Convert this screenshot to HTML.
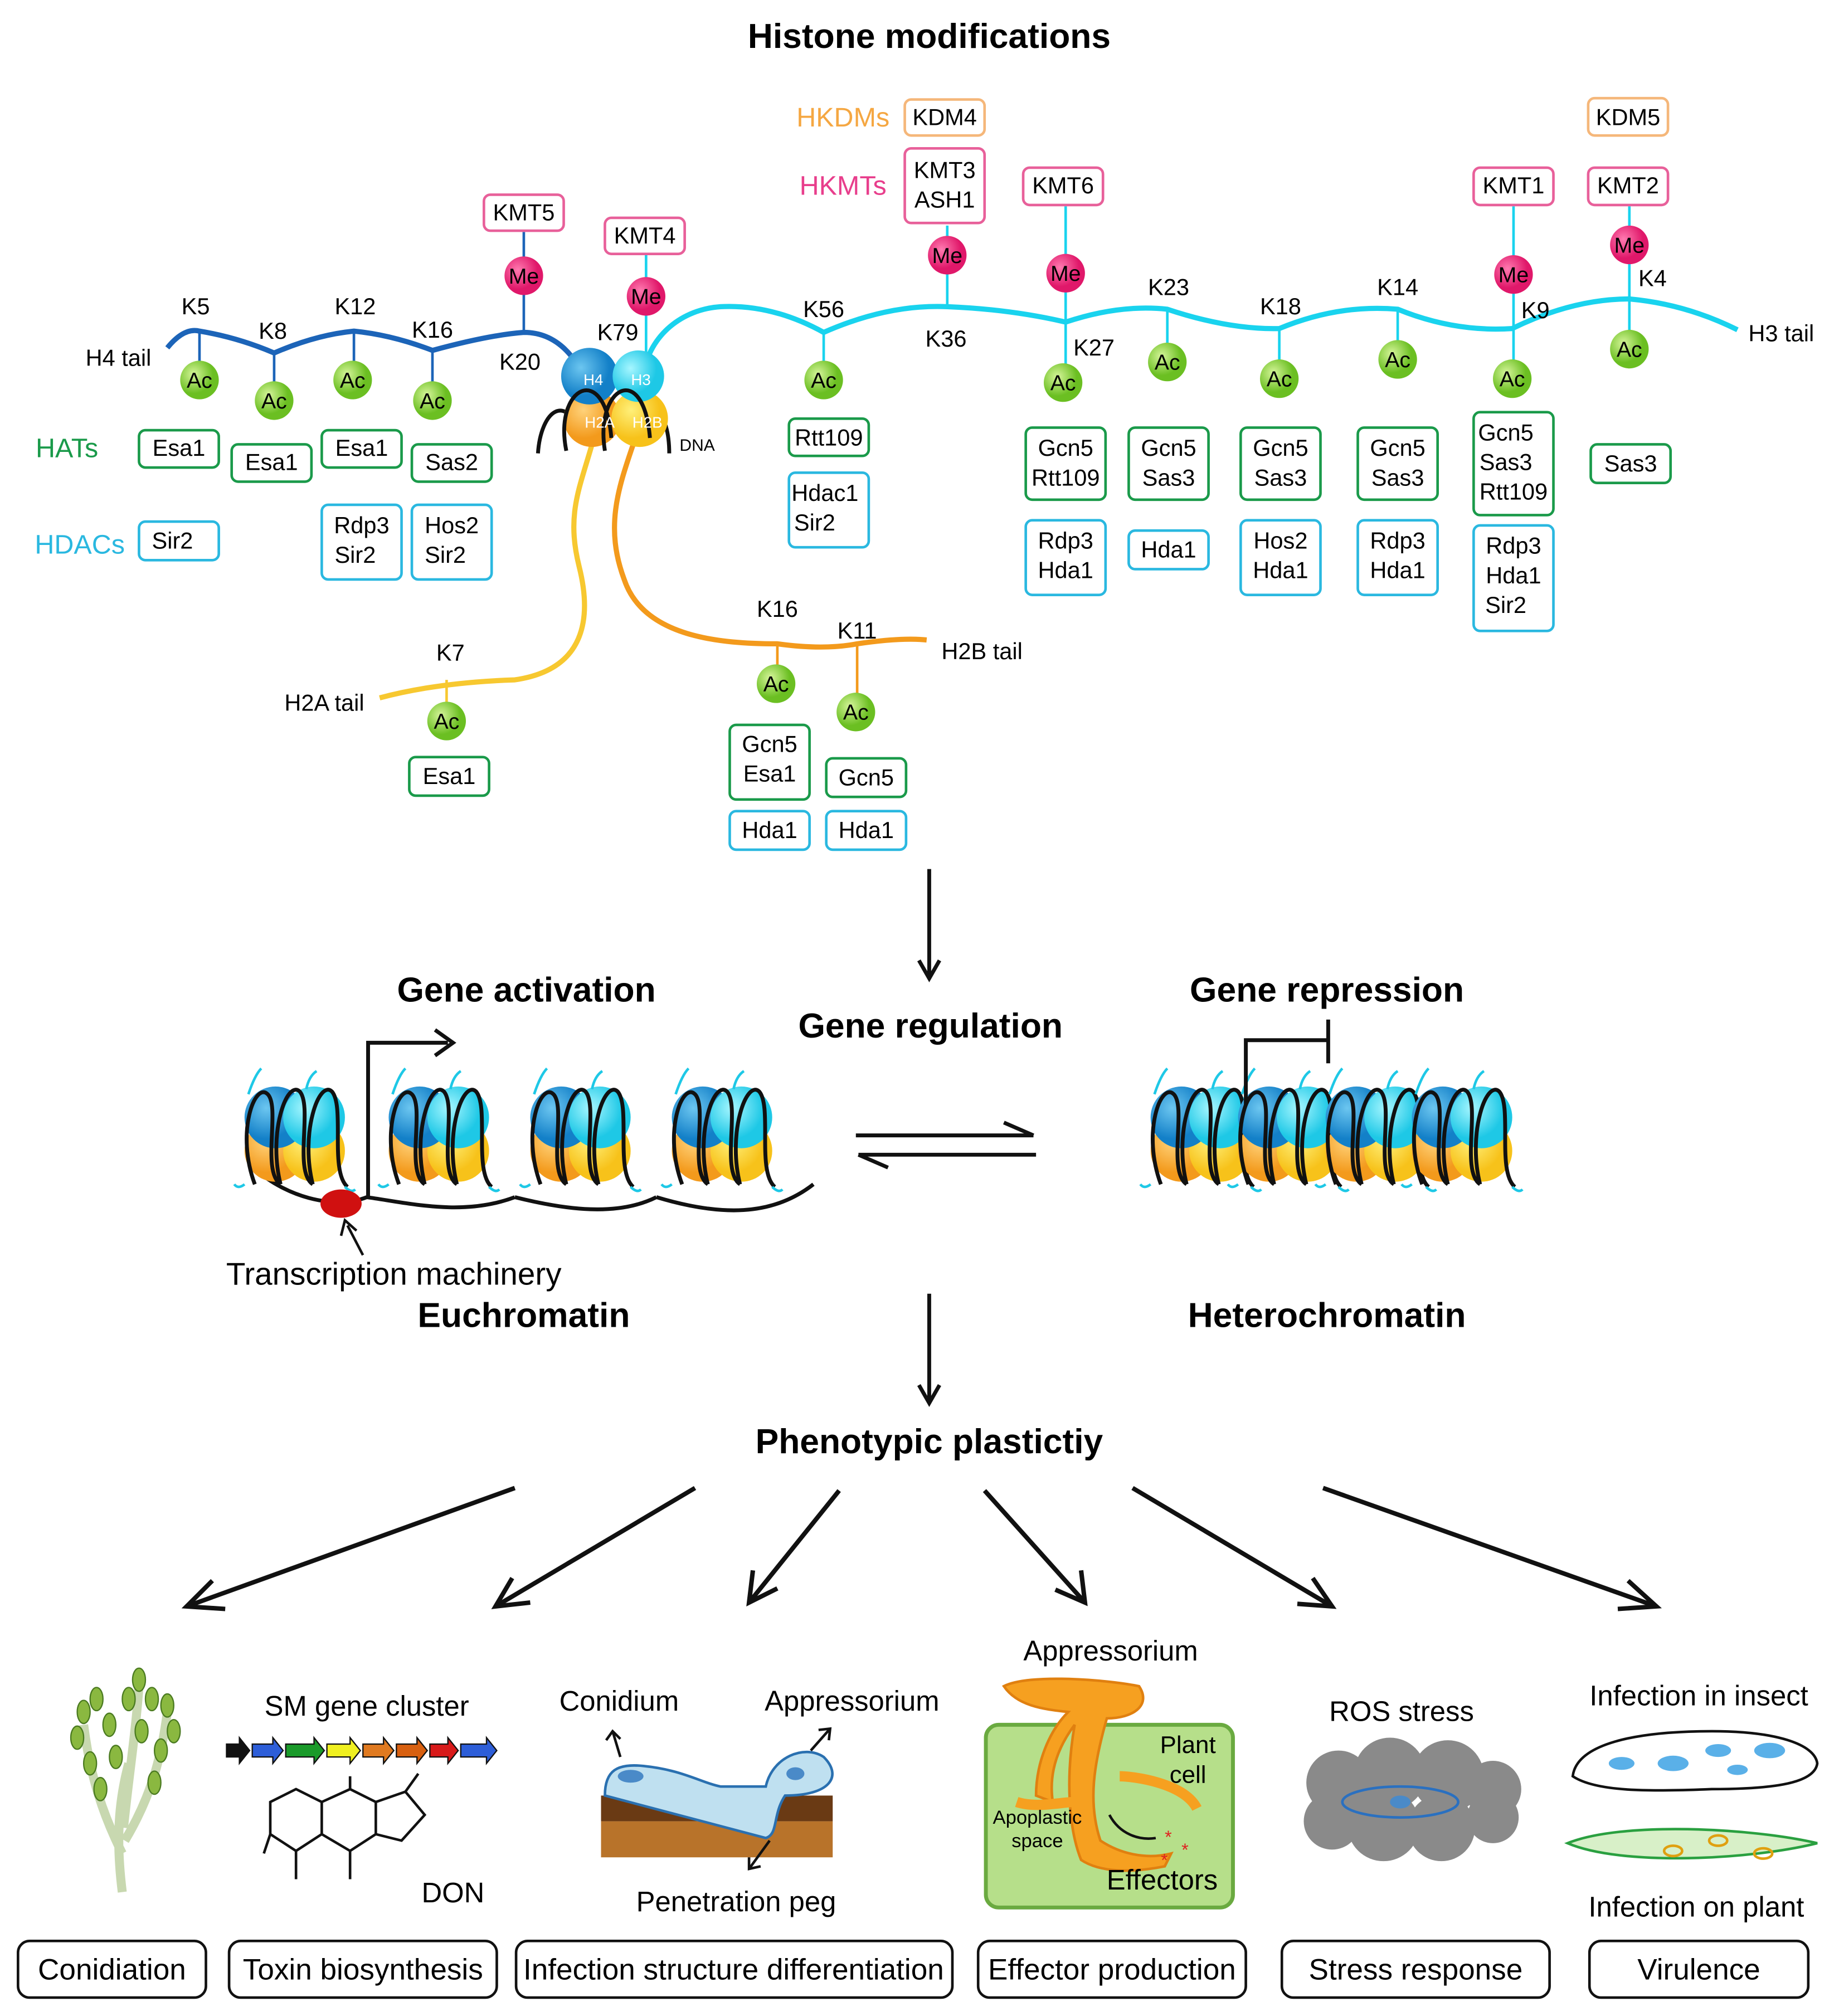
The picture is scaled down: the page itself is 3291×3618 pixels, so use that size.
<!DOCTYPE html>
<html><head><meta charset="utf-8"><style>
html,body{margin:0;padding:0;background:#fff;}
svg{display:block;}
text{font-family:"Liberation Sans",Arial,sans-serif;}
</style></head><body>
<svg width="3291" height="3618" viewBox="0 0 1425 1566" xmlns="http://www.w3.org/2000/svg">
<defs>
<radialGradient id="gb" cx="35%" cy="35%"><stop offset="0" stop-color="#6cc6f0"/><stop offset="1" stop-color="#1380c8"/></radialGradient>
<radialGradient id="gc" cx="35%" cy="35%"><stop offset="0" stop-color="#a6f6ff"/><stop offset="1" stop-color="#1ec8e6"/></radialGradient>
<radialGradient id="go" cx="35%" cy="35%"><stop offset="0" stop-color="#ffd27a"/><stop offset="1" stop-color="#f39a1c"/></radialGradient>
<radialGradient id="gy" cx="35%" cy="35%"><stop offset="0" stop-color="#fff07a"/><stop offset="1" stop-color="#f7c21a"/></radialGradient>
<radialGradient id="gac" cx="35%" cy="35%"><stop offset="0" stop-color="#d6f59a"/><stop offset="1" stop-color="#6bbf22"/></radialGradient>
<radialGradient id="gme" cx="35%" cy="35%"><stop offset="0" stop-color="#ff7ab0"/><stop offset="1" stop-color="#e0186a"/></radialGradient>
<g id="nuc">
<circle cx="-14" cy="14" r="24" fill="url(#go)"/><circle cx="16" cy="14" r="24" fill="url(#gy)"/>
<circle cx="-14" cy="-12" r="24" fill="url(#gb)"/><circle cx="16" cy="-12" r="24" fill="url(#gc)"/>
<path d="M-30,40 C-45,0 -30,-40 -20,-30 C-10,-20 -25,30 -10,40 M-10,40 C-20,0 -5,-42 5,-32 C15,-20 0,30 15,40 M15,40 C5,0 20,-42 30,-32 C40,-20 28,30 42,42" fill="none" stroke="#111" stroke-width="3"/>
<path d="M-35,-30 q5,-15 10,-20 M10,-34 q2,-10 8,-14 M-38,40 q-5,4 -8,0 M40,42 q5,5 8,2" fill="none" stroke="#1ec8e6" stroke-width="2"/>
</g>
</defs>

<text x="722" y="37" font-size="27" font-weight="bold" text-anchor="middle">Histone modifications</text>

<text x="655" y="98" font-size="21" fill="#f5a742" text-anchor="middle">HKDMs</text>
<text x="655" y="151" font-size="21" fill="#e83e8c" text-anchor="middle">HKMTs</text>
<text x="52" y="355" font-size="21" fill="#1a9a4a" text-anchor="middle">HATs</text>
<text x="62" y="430" font-size="21" fill="#2ab8e0" text-anchor="middle">HDACs</text>

<path d="M130,270 Q143,254 155,257 Q185,262 213,274 Q245,260 275,257 Q305,260 336,272 Q380,260 407,258 Q432,258 448,282" fill="none" stroke="#1c64b8" stroke-width="4"/>
<path d="M500,290 C505,260 530,240 560,238 Q600,236 640,258 Q690,236 736,238 Q785,240 828,250 Q870,236 907,240 Q955,256 994,255 Q1040,236 1086,240 Q1130,258 1175,255 Q1222,232 1266,232 Q1310,236 1350,256" fill="none" stroke="#19d3ee" stroke-width="4"/>
<path d="M460,345 C450,380 440,400 450,440 C460,480 455,520 400,528 Q340,530 295,542" fill="none" stroke="#f7c830" stroke-width="4"/>
<path d="M492,345 C480,380 470,410 485,450 C500,495 560,500 604,500 Q640,505 666,500 Q700,495 720,497" fill="none" stroke="#f39a1c" stroke-width="4"/>

<g stroke="#1c64b8" stroke-width="2">
<line x1="155" y1="257" x2="155" y2="285"/><line x1="213" y1="274" x2="213" y2="300"/><line x1="275" y1="257" x2="275" y2="285"/><line x1="336" y1="272" x2="336" y2="300"/><line x1="407" y1="228" x2="407" y2="258"/><line x1="407" y1="180" x2="407" y2="200"/>
</g>
<g stroke="#19d3ee" stroke-width="2">
<line x1="502" y1="244" x2="502" y2="275"/><line x1="502" y1="198" x2="502" y2="216"/>
<line x1="640" y1="258" x2="640" y2="283"/>
<line x1="736" y1="212" x2="736" y2="238"/><line x1="736" y1="175" x2="736" y2="185"/>
<line x1="828" y1="226" x2="828" y2="286"/><line x1="828" y1="160" x2="828" y2="198"/>
<line x1="907" y1="240" x2="907" y2="270"/><line x1="994" y1="255" x2="994" y2="283"/><line x1="1086" y1="240" x2="1086" y2="268"/>
<line x1="1176" y1="227" x2="1176" y2="283"/><line x1="1176" y1="160" x2="1176" y2="199"/>
<line x1="1266" y1="204" x2="1266" y2="260"/><line x1="1266" y1="160" x2="1266" y2="176"/>
</g>
<g stroke="#f7c830" stroke-width="2"><line x1="347" y1="528" x2="347" y2="548"/></g>
<g stroke="#f39a1c" stroke-width="2"><line x1="604" y1="500" x2="604" y2="519"/><line x1="666" y1="500" x2="666" y2="541"/></g>

<path d="M418,352 C420,320 440,300 455,345 M520,352 C520,320 505,300 490,345" fill="none" stroke="#111" stroke-width="3"/>
<circle cx="460" cy="325" r="22" fill="url(#go)"/><circle cx="497" cy="325" r="22" fill="url(#gy)"/>
<circle cx="458" cy="292" r="22" fill="url(#gb)"/><circle cx="496" cy="292" r="20" fill="url(#gc)"/>
<path d="M440,350 C430,300 470,280 475,340 M470,350 C462,300 500,280 505,340" fill="none" stroke="#111" stroke-width="3"/>
<text x="461" y="299" font-size="12" fill="#fff" text-anchor="middle">H4</text>
<text x="498" y="299" font-size="12" fill="#fff" text-anchor="middle">H3</text>
<text x="466" y="332" font-size="12" fill="#fff" text-anchor="middle">H2A</text>
<text x="503" y="332" font-size="12" fill="#fff" text-anchor="middle">H2B</text>
<text x="528" y="350" font-size="13">DNA</text>

<g font-size="18" text-anchor="middle">
<text x="152" y="244">K5</text><text x="212" y="263">K8</text><text x="276" y="244">K12</text><text x="336" y="262">K16</text><text x="404" y="287">K20</text><text x="480" y="264">K79</text>
<text x="640" y="246">K56</text><text x="735" y="269">K36</text><text x="850" y="276">K27</text><text x="908" y="229">K23</text><text x="995" y="244">K18</text><text x="1086" y="229">K14</text><text x="1193" y="247">K9</text><text x="1284" y="222">K4</text>
<text x="350" y="513">K7</text><text x="604" y="479">K16</text><text x="666" y="496">K11</text>
<text x="92" y="284">H4 tail</text><text x="1384" y="265">H3 tail</text><text x="252" y="552">H2A tail</text><text x="763" y="512">H2B tail</text>
</g>

<g font-size="17" text-anchor="middle">
<g fill="url(#gac)"><circle cx="155" cy="295" r="15"/><circle cx="213" cy="311" r="15"/><circle cx="274" cy="295" r="15"/><circle cx="336" cy="311" r="15"/><circle cx="640" cy="295" r="15"/><circle cx="826" cy="297" r="15"/><circle cx="907" cy="281" r="15"/><circle cx="994" cy="294" r="15"/><circle cx="1086" cy="279" r="15"/><circle cx="1175" cy="294" r="15"/><circle cx="1266" cy="271" r="15"/><circle cx="347" cy="560" r="15"/><circle cx="603" cy="531" r="15"/><circle cx="665" cy="553" r="15"/></g>
<text x="155" y="301">Ac</text><text x="213" y="317">Ac</text><text x="274" y="301">Ac</text><text x="336" y="317">Ac</text><text x="640" y="301">Ac</text><text x="826" y="303">Ac</text><text x="907" y="287">Ac</text><text x="994" y="300">Ac</text><text x="1086" y="285">Ac</text><text x="1175" y="300">Ac</text><text x="1266" y="277">Ac</text><text x="347" y="566">Ac</text><text x="603" y="537">Ac</text><text x="665" y="559">Ac</text>
<g fill="url(#gme)"><circle cx="407" cy="214" r="15"/><circle cx="502" cy="230" r="15"/><circle cx="736" cy="198" r="15"/><circle cx="828" cy="212" r="15"/><circle cx="1176" cy="213" r="15"/><circle cx="1266" cy="190" r="15"/></g>
<text x="407" y="220">Me</text><text x="502" y="236">Me</text><text x="736" y="204">Me</text><text x="828" y="218">Me</text><text x="1176" y="219">Me</text><text x="1266" y="196">Me</text>
</g>

<g fill="#fff" stroke-width="2">
<g stroke="#f5b77a"><rect x="703" y="77" width="62" height="28" rx="5"/><rect x="1234" y="76" width="62" height="29" rx="5"/></g>
<g stroke="#e8609a"><rect x="376" y="151" width="62" height="28" rx="5"/><rect x="470" y="169" width="62" height="28" rx="5"/><rect x="703" y="115" width="62" height="58" rx="5"/><rect x="795" y="130" width="62" height="29" rx="5"/><rect x="1145" y="130" width="62" height="29" rx="5"/><rect x="1234" y="130" width="62" height="29" rx="5"/></g>
<g stroke="#1a9a4a"><rect x="108" y="334" width="62" height="29" rx="5"/><rect x="180" y="345" width="62" height="29" rx="5"/><rect x="250" y="334" width="62" height="29" rx="5"/><rect x="320" y="345" width="62" height="29" rx="5"/><rect x="613" y="325" width="62" height="29" rx="5"/><rect x="797" y="332" width="62" height="56" rx="5"/><rect x="877" y="332" width="62" height="56" rx="5"/><rect x="964" y="332" width="62" height="56" rx="5"/><rect x="1055" y="332" width="62" height="56" rx="5"/><rect x="1145" y="320" width="62" height="80" rx="5"/><rect x="1236" y="345" width="62" height="30" rx="5"/><rect x="318" y="588" width="62" height="30" rx="5"/><rect x="567" y="563" width="62" height="58" rx="5"/><rect x="642" y="589" width="62" height="30" rx="5"/></g>
<g stroke="#2ab8e0"><rect x="108" y="405" width="62" height="30" rx="5"/><rect x="250" y="392" width="62" height="58" rx="5"/><rect x="320" y="392" width="62" height="58" rx="5"/><rect x="613" y="367" width="62" height="58" rx="5"/><rect x="797" y="404" width="62" height="58" rx="5"/><rect x="877" y="412" width="62" height="30" rx="5"/><rect x="964" y="404" width="62" height="58" rx="5"/><rect x="1055" y="404" width="62" height="58" rx="5"/><rect x="1145" y="408" width="62" height="82" rx="5"/><rect x="567" y="630" width="62" height="30" rx="5"/><rect x="642" y="630" width="62" height="30" rx="5"/></g>
</g>
<g font-size="18" text-anchor="middle">
<text x="734" y="97">KDM4</text><text x="1265" y="97">KDM5</text>
<text x="407" y="171">KMT5</text><text x="501" y="189">KMT4</text><text x="734" y="138">KMT3</text><text x="734" y="161">ASH1</text><text x="826" y="150">KMT6</text><text x="1176" y="150">KMT1</text><text x="1265" y="150">KMT2</text>
<text x="139" y="354">Esa1</text><text x="211" y="365">Esa1</text><text x="281" y="354">Esa1</text><text x="351" y="365">Sas2</text><text x="644" y="346">Rtt109</text>
<text x="828" y="354">Gcn5</text><text x="828" y="377">Rtt109</text><text x="908" y="354">Gcn5</text><text x="908" y="377">Sas3</text><text x="995" y="354">Gcn5</text><text x="995" y="377">Sas3</text><text x="1086" y="354">Gcn5</text><text x="1086" y="377">Sas3</text>
<text x="1170" y="342">Gcn5</text><text x="1170" y="365">Sas3</text><text x="1176" y="388">Rtt109</text><text x="1267" y="366">Sas3</text>
<text x="349" y="609">Esa1</text><text x="598" y="584">Gcn5</text><text x="598" y="607">Esa1</text><text x="673" y="610">Gcn5</text>
<text x="134" y="426">Sir2</text><text x="281" y="414">Rdp3</text><text x="276" y="437">Sir2</text><text x="351" y="414">Hos2</text><text x="346" y="437">Sir2</text>
<text x="641" y="389">Hdac1</text><text x="633" y="412">Sir2</text>
<text x="828" y="426">Rdp3</text><text x="828" y="449">Hda1</text><text x="908" y="433">Hda1</text><text x="995" y="426">Hos2</text><text x="995" y="449">Hda1</text><text x="1086" y="426">Rdp3</text><text x="1086" y="449">Hda1</text>
<text x="1176" y="430">Rdp3</text><text x="1176" y="453">Hda1</text><text x="1170" y="476">Sir2</text>
<text x="598" y="651">Hda1</text><text x="673" y="651">Hda1</text>
</g>

<g stroke="#111" stroke-width="3" fill="none">
<line x1="722" y1="675" x2="722" y2="758"/><path d="M714,746 L722,760 L730,746"/>
<line x1="722" y1="1005" x2="722" y2="1088"/><path d="M714,1076 L722,1090 L730,1076"/>
</g>

<g font-size="27" font-weight="bold" text-anchor="middle">
<text x="409" y="778">Gene activation</text><text x="723" y="806">Gene regulation</text><text x="1031" y="778">Gene repression</text>
<text x="407" y="1031">Euchromatin</text><text x="1031" y="1031">Heterochromatin</text>
<text x="722" y="1129">Phenotypic plastictiy</text>
</g>

<path d="M195,905 C220,930 260,940 285,930 M285,930 C320,935 360,945 400,930 M400,930 C440,940 480,945 510,930 M510,930 C560,945 600,945 632,920" fill="none" stroke="#111" stroke-width="3"/>
<use href="#nuc" x="228" y="880"/><use href="#nuc" x="340" y="880"/><use href="#nuc" x="450" y="880"/><use href="#nuc" x="560" y="880"/>
<path d="M286,930 L286,810 L348,810" fill="none" stroke="#111" stroke-width="3"/>
<path d="M338,800 L352,810 L338,820" fill="none" stroke="#111" stroke-width="3"/>
<ellipse cx="265" cy="935" rx="16" ry="11" fill="#d01010"/>
<line x1="282" y1="975" x2="270" y2="952" stroke="#111" stroke-width="2"/><path d="M265,960 L268,948 L277,956" fill="none" stroke="#111" stroke-width="2"/>
<text x="306" y="998" font-size="24.5" text-anchor="middle">Transcription machinery</text>

<g stroke="#111" stroke-width="3" fill="none">
<line x1="665" y1="882" x2="803" y2="882"/><path d="M780,872 L803,882"/>
<line x1="667" y1="897" x2="805" y2="897"/><path d="M690,907 L667,897"/>
</g>

<use href="#nuc" x="932" y="880"/><use href="#nuc" x="1000" y="880"/><use href="#nuc" x="1068" y="880"/><use href="#nuc" x="1135" y="880"/>
<path d="M968,858 L968,808 L1032,808 M1032,792 L1032,826" fill="none" stroke="#111" stroke-width="3"/>

<g stroke="#111" stroke-width="3.5" fill="none">
<line x1="400" y1="1156" x2="145" y2="1248"/><path d="M165,1228 L145,1248 L175,1250"/>
<line x1="540" y1="1156" x2="385" y2="1248"/><path d="M398,1226 L385,1248 L412,1245"/>
<line x1="652" y1="1158" x2="582" y2="1245"/><path d="M585,1220 L582,1245 L604,1234"/>
<line x1="765" y1="1158" x2="843" y2="1245"/><path d="M820,1235 L843,1245 L840,1220"/>
<line x1="880" y1="1156" x2="1035" y2="1248"/><path d="M1008,1246 L1035,1248 L1020,1226"/>
<line x1="1028" y1="1156" x2="1287" y2="1248"/><path d="M1257,1250 L1287,1248 L1265,1228"/>
</g>

<g>
<path d="M95,1470 C90,1430 92,1400 100,1370 M95,1440 C80,1410 70,1380 65,1340 M97,1430 C115,1400 125,1370 130,1330 M96,1420 C100,1380 105,1350 108,1310" stroke="#c8d8b0" stroke-width="7" fill="none"/>
<g fill="#8ab840" stroke="#4a7a20" stroke-width="1">
<ellipse cx="65" cy="1330" rx="5" ry="9"/><ellipse cx="75" cy="1320" rx="5" ry="9"/><ellipse cx="60" cy="1350" rx="5" ry="9"/><ellipse cx="85" cy="1340" rx="5" ry="9"/><ellipse cx="108" cy="1305" rx="5" ry="9"/><ellipse cx="118" cy="1320" rx="5" ry="9"/><ellipse cx="100" cy="1320" rx="5" ry="9"/><ellipse cx="130" cy="1325" rx="5" ry="9"/><ellipse cx="135" cy="1345" rx="5" ry="9"/><ellipse cx="125" cy="1360" rx="5" ry="9"/><ellipse cx="70" cy="1370" rx="5" ry="9"/><ellipse cx="90" cy="1365" rx="5" ry="9"/><ellipse cx="110" cy="1345" rx="5" ry="9"/><ellipse cx="120" cy="1385" rx="5" ry="9"/><ellipse cx="78" cy="1390" rx="5" ry="9"/></g>
</g>
<text x="285" y="1333" font-size="22" text-anchor="middle">SM gene cluster</text>
<g stroke="#111" stroke-width="1">
<path d="M176,1355 h10 v-5 l8,10 l-8,10 v-5 h-10z" fill="#111"/>
<path d="M196,1355 h16 v-5 l8,10 l-8,10 v-5 h-16z" fill="#2d5ed8"/>
<path d="M222,1355 h22 v-5 l8,10 l-8,10 v-5 h-22z" fill="#1a9a2a"/>
<path d="M254,1355 h18 v-5 l8,10 l-8,10 v-5 h-18z" fill="#f0f020"/>
<path d="M282,1355 h16 v-5 l8,10 l-8,10 v-5 h-16z" fill="#e07a20"/>
<path d="M308,1355 h16 v-5 l8,10 l-8,10 v-5 h-16z" fill="#d86010"/>
<path d="M334,1355 h14 v-5 l8,10 l-8,10 v-5 h-14z" fill="#d81a1a"/>
<path d="M358,1355 h20 v-5 l8,10 l-8,10 v-5 h-20z" fill="#2d5ed8"/>
</g>
<path d="M210,1400 L230,1390 L250,1400 L250,1425 L230,1438 L210,1425 Z M250,1400 L272,1390 L292,1400 L292,1425 L272,1438 L250,1425 M292,1400 L315,1392 L330,1410 L312,1430 L292,1425 M230,1438 L230,1460 M272,1438 L272,1460 M205,1440 L210,1425 M272,1390 L272,1380 M315,1392 L325,1378" fill="none" stroke="#111" stroke-width="2"/>
<text x="352" y="1478" font-size="22" text-anchor="middle">DON</text>
<text x="481" y="1329" font-size="22" text-anchor="middle">Conidium</text>
<text x="662" y="1329" font-size="22" text-anchor="middle">Appressorium</text>
<rect x="467" y="1395" width="180" height="20" fill="#6a3a14"/><rect x="467" y="1415" width="180" height="28" fill="#b8732a"/>
<path d="M470,1395 C470,1375 480,1370 500,1372 C530,1375 545,1385 560,1388 L595,1388 C600,1365 625,1355 640,1365 C655,1380 645,1395 610,1395 C600,1410 605,1425 595,1428 Z" fill="#bfe0f0" stroke="#2a70b0" stroke-width="2"/>
<ellipse cx="490" cy="1380" rx="10" ry="5" fill="#4a8ac8"/><ellipse cx="618" cy="1378" rx="7" ry="5" fill="#4a8ac8"/>
<g stroke="#111" stroke-width="2" fill="none"><path d="M482,1365 L476,1345 M471,1352 L476,1345 L482,1351 M630,1360 L645,1343 M636,1344 L645,1343 L644,1352 M598,1430 L582,1452 M582,1443 L582,1452 L591,1450"/></g>
<text x="572" y="1485" font-size="22" text-anchor="middle">Penetration peg</text>
<text x="863" y="1290" font-size="22" text-anchor="middle">Appressorium</text>
<rect x="766" y="1340" width="192" height="142" rx="10" fill="#b6df8a" stroke="#6aaa40" stroke-width="3"/>
<path d="M780,1310 C800,1300 860,1305 885,1310 C895,1325 880,1335 860,1335 C850,1370 845,1400 855,1430 C870,1440 890,1445 910,1440 L905,1450 C880,1455 855,1455 840,1445 C830,1420 828,1380 835,1340 C820,1360 815,1380 818,1400 L805,1395 C805,1370 815,1345 830,1330 C810,1328 790,1325 780,1310 Z" fill="#f6a020" stroke="#e08010" stroke-width="2"/>
<path d="M870,1380 C880,1380 920,1385 930,1405 M835,1400 C825,1400 805,1405 790,1400" stroke="#f6a020" stroke-width="8" fill="none"/>
<path d="M862,1410 C870,1425 885,1430 898,1428" fill="none" stroke="#111" stroke-width="2"/>
<g fill="#e02020" font-size="14"><text x="905" y="1432">*</text><text x="918" y="1442">*</text><text x="902" y="1450">*</text></g>
<text x="923" y="1362" font-size="19" text-anchor="middle">Plant</text><text x="923" y="1385" font-size="19" text-anchor="middle">cell</text>
<text x="806" y="1417" font-size="15" text-anchor="middle">Apoplastic</text><text x="806" y="1435" font-size="15" text-anchor="middle">space</text>
<text x="903" y="1468" font-size="22" text-anchor="middle">Effectors</text>
<text x="1089" y="1337" font-size="22" text-anchor="middle">ROS stress</text>
<g fill="#8a8a8a"><circle cx="1040" cy="1385" r="25"/><circle cx="1080" cy="1378" r="28"/><circle cx="1125" cy="1380" r="28"/><circle cx="1160" cy="1390" r="22"/><circle cx="1035" cy="1415" r="22"/><circle cx="1075" cy="1418" r="28"/><circle cx="1120" cy="1420" r="26"/><circle cx="1160" cy="1412" r="20"/></g>
<ellipse cx="1088" cy="1400" rx="45" ry="12" fill="none" stroke="#2a70c0" stroke-width="2"/>
<ellipse cx="1088" cy="1400" rx="8" ry="5" fill="#4a8ac8"/>
<text x="1320" y="1325" font-size="22" text-anchor="middle">Infection in insect</text>
<path d="M1222,1380 C1225,1355 1270,1345 1330,1345 C1380,1345 1410,1355 1412,1370 C1410,1385 1380,1390 1330,1390 C1280,1392 1240,1392 1222,1380 Z" fill="#fff" stroke="#111" stroke-width="2"/>
<g fill="#5ab0e8"><ellipse cx="1260" cy="1370" rx="10" ry="5"/><ellipse cx="1300" cy="1370" rx="12" ry="6"/><ellipse cx="1335" cy="1360" rx="10" ry="5"/><ellipse cx="1375" cy="1360" rx="12" ry="6"/><ellipse cx="1350" cy="1375" rx="8" ry="4"/></g>
<path d="M1218,1432 C1260,1415 1360,1420 1412,1432 C1360,1445 1260,1450 1218,1432 Z" fill="#d8f0c8" stroke="#2aa040" stroke-width="2"/>
<g fill="none" stroke="#e0a010" stroke-width="2"><ellipse cx="1300" cy="1438" rx="7" ry="4"/><ellipse cx="1335" cy="1430" rx="7" ry="4"/><ellipse cx="1370" cy="1440" rx="7" ry="4"/></g>
<text x="1318" y="1489" font-size="22" text-anchor="middle">Infection on plant</text>

<g fill="#fff" stroke="#111" stroke-width="2">
<rect x="14" y="1508" width="146" height="44" rx="9"/><rect x="178" y="1508" width="208" height="44" rx="9"/><rect x="401" y="1508" width="339" height="44" rx="9"/><rect x="760" y="1508" width="208" height="44" rx="9"/><rect x="996" y="1508" width="208" height="44" rx="9"/><rect x="1235" y="1508" width="170" height="44" rx="9"/>
</g>
<g font-size="23" text-anchor="middle">
<text x="87" y="1538">Conidiation</text><text x="282" y="1538">Toxin biosynthesis</text><text x="570" y="1538">Infection structure differentiation</text><text x="864" y="1538">Effector production</text><text x="1100" y="1538">Stress response</text><text x="1320" y="1538">Virulence</text>
</g>
</svg>
</body></html>
